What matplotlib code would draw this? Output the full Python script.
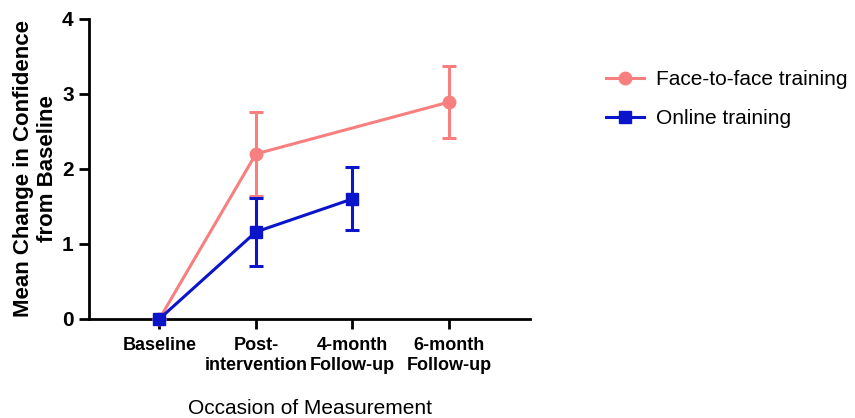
import numpy as np
import matplotlib
matplotlib.use("Agg")
import matplotlib.pyplot as plt
from matplotlib.lines import Line2D

plt.rcParams["font.family"] = ["Liberation Sans", "DejaVu Sans"]

occasions = ["Baseline", "Post-\nintervention", "4-month\nFollow-up", "6-month\nFollow-up"]
ftf_mean = [0.0, 2.20, np.nan, 2.89]
ftf_err = [0.0, 0.56, np.nan, 0.48]
online_mean = [0.0, 1.16, 1.60, np.nan]
online_err = [0.0, 0.45, 0.42, np.nan]

FTF_C = "#f87f7f"
ONL_C = "#0a14c8"

fig = plt.figure(figsize=(8.55, 4.18), dpi=100)
ax = fig.add_axes([0.104, 0.237, 0.516, 0.718])

x = np.arange(len(occasions))


def draw(mean, err, color, marker, ms):
    mean = np.array(mean, dtype=float)
    err = np.array(err, dtype=float)
    ok = ~np.isnan(mean)
    ax.errorbar(x[ok], mean[ok], yerr=err[ok], color=color, marker=marker,
                markersize=ms, linewidth=2.2, elinewidth=2.2, capsize=5,
                capthick=2.2, clip_on=False, zorder=3)


draw(ftf_mean, ftf_err, FTF_C, "o", 9)
draw(online_mean, online_err, ONL_C, "s", 9)

ax.set_xlim(-0.73, 3.84)
ax.set_ylim(0, 4)
ax.set_yticks([0, 1, 2, 3, 4])
ax.set_xticks(x)
ax.set_xticklabels(occasions, fontsize=13, fontweight="bold", linespacing=1.2)
ax.tick_params(axis="y", labelsize=15, width=2, length=7, pad=4)
for t in ax.get_yticklabels():
    t.set_fontweight("bold")
ax.tick_params(axis="x", width=2, length=7, pad=6)
for side in ["top", "right"]:
    ax.spines[side].set_visible(False)
for side in ["left", "bottom"]:
    ax.spines[side].set_linewidth(2)

ax.set_ylabel("Mean Change in Confidence\nfrom Baseline", fontsize=16,
              fontweight="bold", linespacing=1.15, labelpad=3)
ax.set_xlabel("Occasion of Measurement", fontsize=15, labelpad=18)

handles = [Line2D([], [], color=FTF_C, marker="o", markersize=9, linewidth=2.2),
           Line2D([], [], color=ONL_C, marker="s", markersize=9, linewidth=2.2)]
labels = ["Face-to-face training", "Online training"]
fig.legend(handles, labels, loc="upper left", bbox_to_anchor=(0.709, 0.832),
           frameon=False, fontsize=15, labelspacing=0.95, handlelength=1.8,
           handletextpad=0.6, borderpad=0, borderaxespad=0)

fig.savefig("out.png", dpi=100)
